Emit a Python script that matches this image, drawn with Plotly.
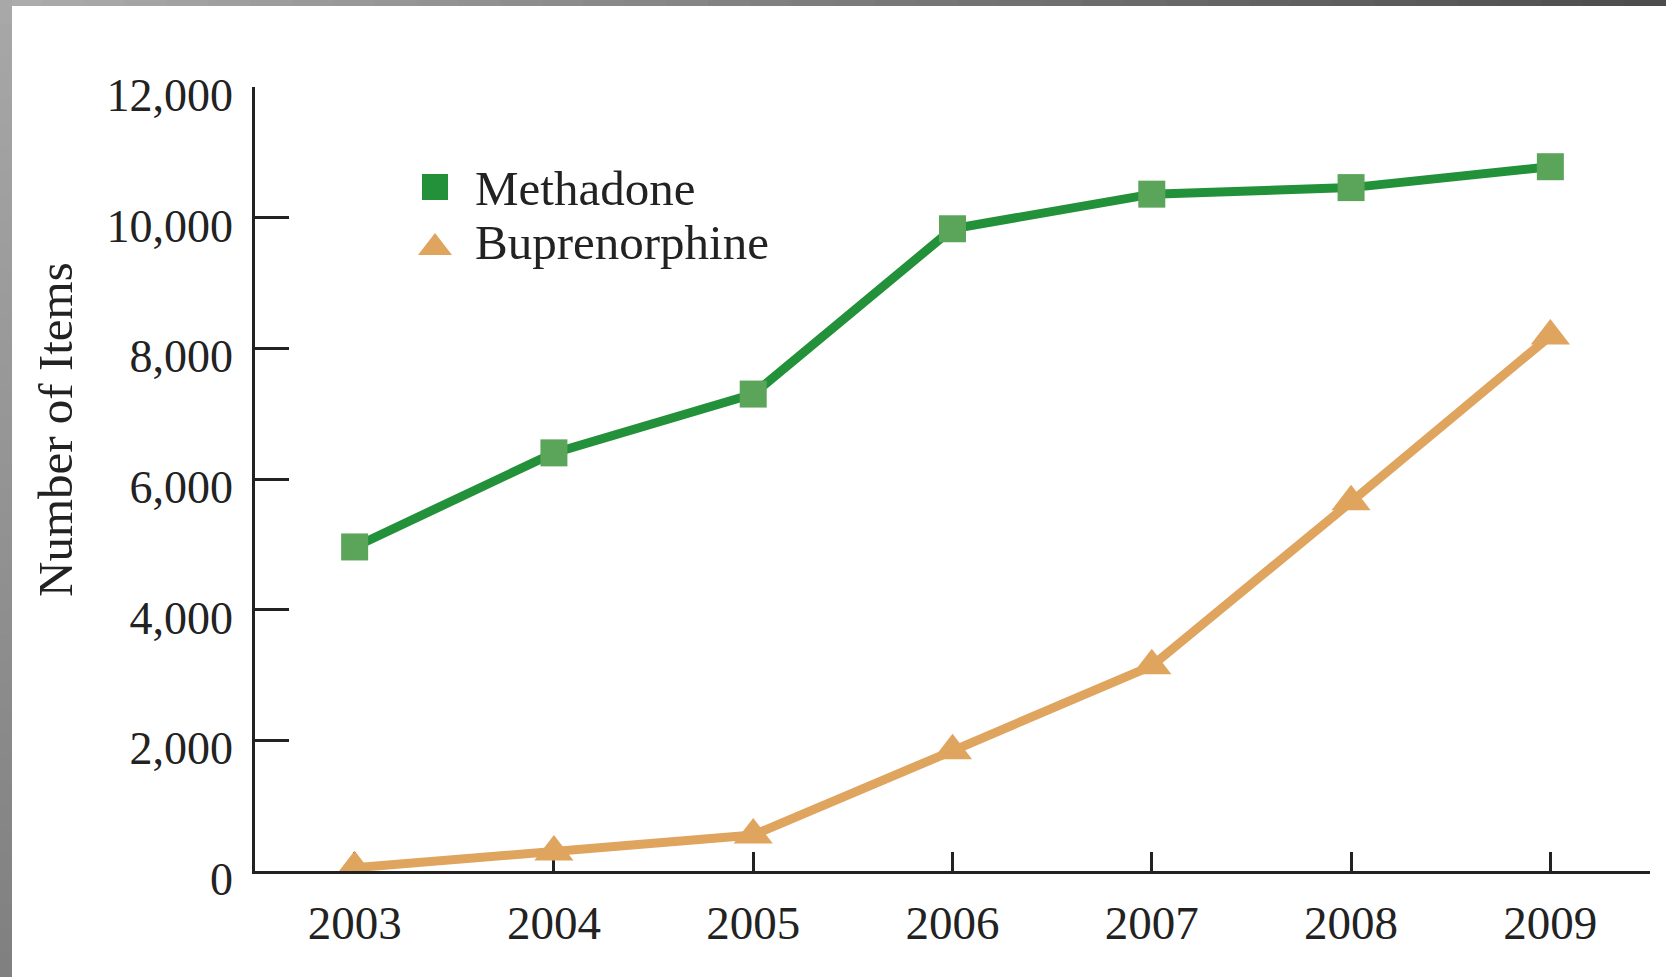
import plotly.graph_objects as go

years = [2003, 2004, 2005, 2006, 2007, 2008, 2009]
methadone = [4960, 6400, 7300, 9830, 10360, 10460, 10780]
buprenorphine = [50, 290, 550, 1840, 3140, 5650, 8190]
series_names = ["Methadone", "Buprenorphine"]
y_ticks = [0, 2000, 4000, 6000, 8000, 10000, 12000]
y_title = "Number of Items"

W, H = 1666, 977
ML, MR, MT, MB = 255, 16, 87, 106
PW, PH = W - ML - MR, H - MT - MB

GREEN_LINE = "#23913A"
GREEN_MARK = "#5AA55A"
TAN = "#DFA45E"
INK = "#222222"
FONT = "Liberation Serif"

fig = go.Figure()
fig.add_trace(go.Scatter(
    x=years, y=methadone, name=series_names[0], mode="lines+markers",
    line=dict(color=GREEN_LINE, width=9),
    marker=dict(symbol="square", size=27, color=GREEN_MARK),
    showlegend=False))
fig.add_trace(go.Scatter(
    x=years, y=buprenorphine, name=series_names[1], mode="lines+markers",
    line=dict(color=TAN, width=9),
    marker=dict(symbol="triangle-up", size=34, color=TAN),
    showlegend=False))


def px_x(p):
    return (p - ML) / PW


def px_y(p):
    return (H - MB - p) / PH


shapes = []
# gray frame gradient: top strip and left strip
n = 40
for i in range(n):
    x0 = i * W / n
    x1 = (i + 1) * W / n + 2
    t = i / (n - 1)
    g = int(172 - 95 * t)
    shapes.append(dict(type="rect", xref="paper", yref="paper",
                       x0=px_x(x0), x1=px_x(x1), y0=px_y(6), y1=px_y(0),
                       fillcolor=f"rgb({g},{g},{g})", line=dict(width=0), layer="above"))
for i in range(n):
    y0 = i * H / n
    y1 = (i + 1) * H / n + 2
    t = i / (n - 1)
    g = int(168 - 40 * t)
    shapes.append(dict(type="rect", xref="paper", yref="paper",
                       x0=px_x(0), x1=px_x(12), y0=px_y(y1), y1=px_y(y0),
                       fillcolor=f"rgb({g},{g},{g})", line=dict(width=0), layer="above"))

# legend key symbols (drawn large, as in the reference)
sq_cx, sq_cy, sq_s = 435, 187, 26
shapes.append(dict(type="rect", xref="paper", yref="paper",
                   x0=px_x(sq_cx - sq_s / 2), x1=px_x(sq_cx + sq_s / 2),
                   y0=px_y(sq_cy + sq_s / 2), y1=px_y(sq_cy - sq_s / 2),
                   fillcolor=GREEN_LINE, line=dict(width=0)))
tr_cx, tr_top, tr_bot, tr_hw = 435, 233, 255, 17
shapes.append(dict(type="path", xref="paper", yref="paper",
                   path=(f"M {px_x(tr_cx - tr_hw)},{px_y(tr_bot)} "
                         f"L {px_x(tr_cx + tr_hw)},{px_y(tr_bot)} "
                         f"L {px_x(tr_cx)},{px_y(tr_top)} Z"),
                   fillcolor=TAN, line=dict(width=0)))

annotations = [
    dict(text=y_title, xref="paper", yref="paper",
         x=px_x(55), y=px_y(430), textangle=-90, showarrow=False,
         xanchor="center", yanchor="middle",
         font=dict(size=49, family=FONT, color=INK)),
    dict(text=series_names[0], xref="paper", yref="paper",
         x=px_x(473), y=px_y(188), showarrow=False, xanchor="left", yanchor="middle",
         font=dict(size=49, family=FONT, color=INK)),
    dict(text=series_names[1], xref="paper", yref="paper",
         x=px_x(473), y=px_y(242), showarrow=False, xanchor="left", yanchor="middle",
         font=dict(size=49, family=FONT, color=INK)),
]

fig.update_layout(
    width=W, height=H,
    margin=dict(l=ML, r=MR, t=MT, b=MB),
    paper_bgcolor="white", plot_bgcolor="white",
    font=dict(family=FONT, color=INK, size=46),
    shapes=shapes,
    showlegend=False,
    annotations=annotations,
)
fig.update_xaxes(range=[2002.5, 2009.5], tickvals=years, ticktext=[str(y) for y in years],
                 ticks="inside", ticklen=19, tickwidth=2.5, tickcolor=INK,
                 showline=True, linewidth=2.5, linecolor=INK, showgrid=False, zeroline=False,
                 tickfont=dict(size=47, family=FONT, color=INK), layer="below traces",
                 ticklabelstandoff=9)
fig.update_yaxes(range=[0, 12000], tickvals=y_ticks, tickformat=",",
                 ticks="inside", ticklen=34, tickwidth=2.5, tickcolor=INK,
                 showline=True, linewidth=2.5, linecolor=INK, showgrid=False, zeroline=False,
                 tickfont=dict(size=46, family=FONT, color=INK), layer="below traces",
                 ticklabelstandoff=10, ticklabelshift=8)

fig.write_html("out.html", config={"displayModeBar": False},
               post_script="document.body.style.margin='0';")
